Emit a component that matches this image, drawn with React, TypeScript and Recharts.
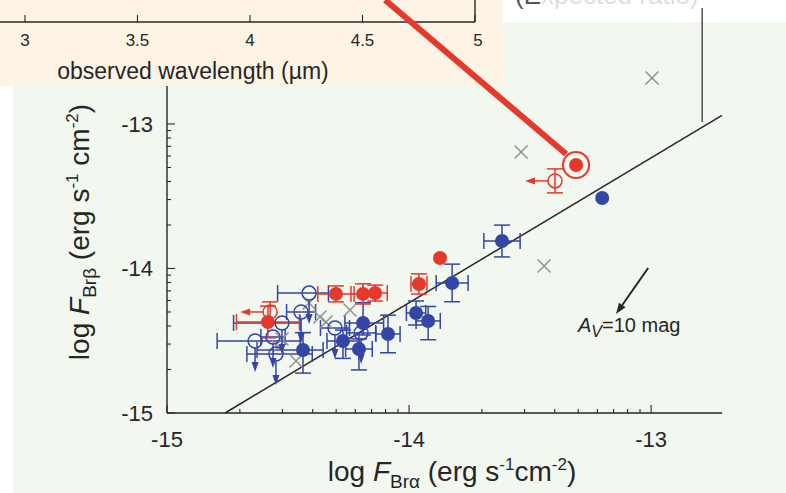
import React from 'react'
import {
  ScatterChart,
  Scatter,
  XAxis,
  YAxis,
  ErrorBar,
  ReferenceLine,
  ReferenceDot,
} from 'recharts'

const FONT = '"Liberation Sans", Arial, Helvetica, sans-serif'
const INK = '#262626'
const RED = '#e5392c'
const BLUE = '#3346a5'
const GREY = '#929292'
const GREEN_BG = '#f2f7ef'
const PEACH_BG = '#fdf4e6'

// axes (log flux)
const X_DOMAIN: [number, number] = [-15, -12.707]
const Y_DOMAIN: [number, number] = [-15, -12.509]
const INSET_DOMAIN: [number, number] = [2.889, 5]
const INSET_TICKS = [3, 3.5, 4, 4.5, 5]

// red filled, with errors
const redX = [-13.959, -14.14, -14.19, -14.302, -14.583]
const redY = [-14.107, -14.17, -14.176, -14.176, -14.37]
const redXErr = [0.033, 0.05, 0.05, 0.075, 0.13]
const redYErr = [0.07, 0.055, 0.07, 0.055, 0.11]
// red filled, no errors
const redBareX = [-13.31, -13.872]
const redBareY = [-13.284, -13.927]
// red open: Bralpha upper limits
const redLimX = [-13.397, -14.574]
const redLimY = [-13.394, -14.301]
const redLimYErr = [0.083, 0.07]

// blue filled, with errors
const blueX = [-13.616, -13.822, -13.971, -13.921, -14.087, -14.19, -14.273, -14.207, -14.438]
const blueY = [-13.81, -14.1, -14.308, -14.363, -14.453, -14.377, -14.502, -14.557, -14.564]
const blueXErr = [
  [0.075, 0.075], [0.066, 0.066], [0.04, 0.04], [0.05, 0.05], [0.05, 0.05],
  [0.075, 0.085], [0.066, 0.066], [0.055, 0.055], [0.19, 0.083],
]
const blueYErr = [
  [0.11, 0.11], [0.13, 0.13], [0.083, 0.083], [0.13, 0.1], [0.13, 0.13],
  [0.083, 0.14], [0.12, 0.076], [0.145, 0.07], [0.16, 0.12],
]
const blueBareX = [-13.202]
const blueBareY = [-13.512]
// blue open: Brbeta upper limits
const blueLimX = [-14.413, -14.446, -14.525, -14.636, -14.562, -14.55, -14.306, -14.198]
const blueLimY = [-14.17, -14.301, -14.377, -14.502, -14.474, -14.592, -14.412, -14.446]
const blueLimXErr = [
  [0.13, 0.08], [0.06, 0.06], [0.2, 0.075], [0.157, 0.186],
  [0.05, 0.05], [0.12, 0.15], [0.06, 0.06], [0.06, 0.06],
]

// grey crosses
const greyX = [-12.996, -13.537, -13.442, -14.413, -14.368, -14.343, -14.244, -14.525, -14.467, -14.541]
const greyY = [-12.682, -13.194, -13.983, -14.239, -14.336, -14.37, -14.287, -14.488, -14.64, -14.543]

// expected ratio line, A_V vector, slide callouts
const ratioLine = [{ x: -14.76, y: -15 }, { x: -12.707, y: -12.94 }]
const avArrow = [{ x: -13.012, y: -13.997 }, { x: -13.145, y: -14.315 }]
const callout = [{ x: -14.099, y: -12.142 }, { x: -13.351, y: -13.208 }]
const bracket = [{ x: -12.789, y: -12.197 }, { x: -12.789, y: -12.986 }]

function logTicks([lo, hi]: [number, number]) {
  const t: number[] = []
  for (let d = Math.floor(lo); d < hi; d++) {
    t.push(d)
    for (let k = 2; k <= 9; k++) t.push(d + Math.log10(k))
  }
  return t.filter((v) => v >= lo - 1e-9 && v <= hi + 1e-9)
}
const xTicks = logTicks(X_DOMAIN)
const yTicks = logTicks(Y_DOMAIN)
const isMajor = (v: number) => Math.abs(v - Math.round(v)) < 1e-6

const red = redX.map((x, i) => ({ x, y: redY[i], ex: redXErr[i], ey: redYErr[i] }))
const redBare = redBareX.map((x, i) => ({ x, y: redBareY[i] }))
const redLim = redLimX.map((x, i) => ({ x, y: redLimY[i], ey: redLimYErr[i] }))
const blue = blueX.map((x, i) => ({ x, y: blueY[i], ex: blueXErr[i], ey: blueYErr[i] }))
const blueBare = blueBareX.map((x, i) => ({ x, y: blueBareY[i] }))
const blueLim = blueLimX.map((x, i) => ({ x, y: blueLimY[i], ex: blueLimXErr[i] }))
const grey = greyX.map((x, i) => ({ x, y: greyY[i] }))

const AXIS = { stroke: INK, strokeWidth: 1.4 }

function BottomTick({ x, y, payload }: any) {
  const major = isMajor(payload.value)
  return (
    <g>
      <line x1={x} y1={y} x2={x} y2={y - (major ? 8 : 4)} stroke={INK} strokeWidth={1.1} />
      {major && (
        <text x={x} y={y + 34} textAnchor="middle" fontSize={22} fill={INK} fontFamily={FONT}>
          {payload.value}
        </text>
      )}
    </g>
  )
}

function TopTick({ x, y, payload }: any) {
  const major = isMajor(payload.value)
  return <line x1={x} y1={y} x2={x} y2={y + (major ? 8 : 4)} stroke={INK} strokeWidth={1.1} />
}

function LeftTick({ x, y, payload }: any) {
  const major = isMajor(payload.value)
  return (
    <g>
      <line x1={x} y1={y} x2={x + (major ? 8 : 4)} y2={y} stroke={INK} strokeWidth={1.1} />
      {major && (
        <text x={x - 14} y={y + 8} textAnchor="end" fontSize={22} fill={INK} fontFamily={FONT}>
          {payload.value}
        </text>
      )}
    </g>
  )
}

function RightTick({ x, y, payload }: any) {
  const major = isMajor(payload.value)
  return <line x1={x} y1={y} x2={x - (major ? 8 : 4)} y2={y} stroke={INK} strokeWidth={1.1} />
}

function InsetTick({ x, y, payload }: any) {
  return (
    <g>
      <line x1={x} y1={y} x2={x} y2={y - 7} stroke={INK} strokeWidth={1.1} />
      <text x={x + (payload.value === 5 ? 3 : 0)} y={y + 24} textAnchor="middle" fontSize={17} fill={INK} fontFamily={FONT}>
        {payload.value}
      </text>
    </g>
  )
}

function XTitle() {
  return (
    <text x={452} y={481} textAnchor="middle" fontSize={28} fill={INK} fontFamily={FONT}>
      {'log '}
      <tspan fontStyle="italic">F</tspan>
      <tspan fontSize={19} dy={7}>Brα</tspan>
      <tspan dy={-7}>{' (erg s'}</tspan>
      <tspan fontSize={17} dy={-11}>-1</tspan>
      <tspan dy={11}>cm</tspan>
      <tspan fontSize={17} dy={-11}>-2</tspan>
      <tspan dy={11}>)</tspan>
    </text>
  )
}

function YTitle() {
  return (
    <text transform="translate(89,232) rotate(-90)" x={0} y={0} textAnchor="middle" fontSize={28} fill={INK} fontFamily={FONT}>
      {'log '}
      <tspan fontStyle="italic">F</tspan>
      <tspan fontSize={19} dy={7}>Brβ</tspan>
      <tspan dy={-7}>{' (erg s'}</tspan>
      <tspan fontSize={17} dy={-11}>-1</tspan>
      <tspan dy={11}>{' cm'}</tspan>
      <tspan fontSize={17} dy={-11}>-2</tspan>
      <tspan dy={11}>)</tspan>
    </text>
  )
}

function InsetTitle() {
  return (
    <text x={193} y={79} textAnchor="middle" fontSize={23} fill={INK} fontFamily={FONT}>
      observed wavelength (µm)
    </text>
  )
}

const filled = (color: string) => (p: any) => <circle cx={p.cx} cy={p.cy} r={7} fill={color} />

function Cross(p: any) {
  const { cx, cy } = p
  const s = 6.5
  return (
    <g stroke={GREY} strokeWidth={1.5}>
      <line x1={cx - s} y1={cy - s} x2={cx + s} y2={cy + s} />
      <line x1={cx - s} y1={cy + s} x2={cx + s} y2={cy - s} />
    </g>
  )
}

function BlueLimit(p: any) {
  const { cx, cy } = p
  const tip = cy + 31
  return (
    <g>
      <line x1={cx} y1={cy + 7} x2={cx} y2={tip - 4} stroke={BLUE} strokeWidth={1.5} />
      <path d={`M${cx - 3.5},${tip - 10} L${cx},${tip} L${cx + 3.5},${tip - 10} Z`} fill={BLUE} />
      <circle cx={cx} cy={cy} r={7} fill="none" stroke={BLUE} strokeWidth={1.5} />
    </g>
  )
}

function RedLimit(p: any) {
  const { cx, cy } = p
  const tip = cx - 30
  return (
    <g>
      <line x1={cx - 7} y1={cy} x2={tip + 4} y2={cy} stroke={RED} strokeWidth={1.5} />
      <path d={`M${tip + 10},${cy - 3.5} L${tip},${cy} L${tip + 10},${cy + 3.5} Z`} fill={RED} />
      <circle cx={cx} cy={cy} r={7} fill="none" stroke={RED} strokeWidth={1.5} />
    </g>
  )
}

function AvArrow(p: any) {
  const { x1, y1, x2, y2 } = p
  const a = Math.atan2(y2 - y1, x2 - x1)
  const L = 11
  const W = 4
  const bx = x2 - L * Math.cos(a)
  const by = y2 - L * Math.sin(a)
  const nx = -Math.sin(a) * W
  const ny = Math.cos(a) * W
  return (
    <g>
      <line x1={x1} y1={y1} x2={bx} y2={by} stroke={INK} strokeWidth={2} />
      <path d={`M${x2},${y2} L${bx + nx},${by + ny} L${bx - nx},${by - ny} Z`} fill={INK} />
      <text x={x2 - 38} y={y2 + 18} fontSize={20} fill={INK} fontFamily={FONT}>
        <tspan fontStyle="italic">A</tspan>
        <tspan fontStyle="italic" fontSize={16} dy={5}>V</tspan>
        <tspan dy={-5}>=10 mag</tspan>
      </text>
    </g>
  )
}

function MainChart() {
  return (
    <ScatterChart width={786} height={493} margin={{ top: 53, right: 64, bottom: 0, left: 0 }}>
      <XAxis
        type="number"
        dataKey="x"
        domain={X_DOMAIN}
        allowDataOverflow
        ticks={xTicks}
        interval={0}
        height={80}
        tickSize={0}
        tickMargin={0}
        tickLine={false}
        tick={BottomTick}
        axisLine={AXIS}
        label={<XTitle />}
      />
      <XAxis
        xAxisId="top"
        orientation="top"
        type="number"
        domain={X_DOMAIN}
        allowDataOverflow
        ticks={xTicks}
        interval={0}
        height={0}
        tickSize={0}
        tickMargin={0}
        tickLine={false}
        tick={TopTick}
        axisLine={AXIS}
      />
      <YAxis
        type="number"
        dataKey="y"
        domain={Y_DOMAIN}
        allowDataOverflow
        ticks={yTicks}
        interval={0}
        width={167}
        tickSize={0}
        tickMargin={0}
        tickLine={false}
        tick={LeftTick}
        axisLine={AXIS}
        label={<YTitle />}
      />
      <YAxis
        yAxisId="right"
        orientation="right"
        type="number"
        domain={Y_DOMAIN}
        allowDataOverflow
        ticks={yTicks}
        interval={0}
        width={0}
        tickSize={0}
        tickMargin={0}
        tickLine={false}
        tick={RightTick}
        axisLine={AXIS}
      />

      <ReferenceLine segment={ratioLine} stroke={INK} strokeWidth={1.5} ifOverflow="visible" />
      <ReferenceLine segment={avArrow} shape={AvArrow} ifOverflow="visible" />

      <Scatter data={grey} shape={Cross} isAnimationActive={false} />
      <Scatter data={blueLim} shape={BlueLimit} isAnimationActive={false}>
        <ErrorBar dataKey="ex" direction="x" width={8} stroke={BLUE} strokeWidth={1.5} />
      </Scatter>
      <Scatter data={blue} shape={filled(BLUE)} isAnimationActive={false}>
        <ErrorBar dataKey="ex" direction="x" width={8} stroke={BLUE} strokeWidth={1.5} />
        <ErrorBar dataKey="ey" direction="y" width={8} stroke={BLUE} strokeWidth={1.5} />
      </Scatter>
      <Scatter data={blueBare} shape={filled(BLUE)} isAnimationActive={false} />
      <Scatter data={redLim} shape={RedLimit} isAnimationActive={false}>
        <ErrorBar dataKey="ey" direction="y" width={8} stroke={RED} strokeWidth={1.5} />
      </Scatter>
      <Scatter data={red} shape={filled(RED)} isAnimationActive={false}>
        <ErrorBar dataKey="ex" direction="x" width={8} stroke={RED} strokeWidth={1.5} />
        <ErrorBar dataKey="ey" direction="y" width={8} stroke={RED} strokeWidth={1.5} />
      </Scatter>
      <Scatter data={redBare} shape={filled(RED)} isAnimationActive={false} />
      <ReferenceDot x={redBareX[0]} y={redBareY[0]} r={13} fill="none" stroke={RED} strokeWidth={2} ifOverflow="visible" />
    </ScatterChart>
  )
}

function InsetChart() {
  return (
    <ScatterChart width={503} height={86} margin={{ top: 0, right: 28, bottom: 0, left: 0 }}>
      <XAxis
        type="number"
        dataKey="x"
        domain={INSET_DOMAIN}
        allowDataOverflow
        ticks={INSET_TICKS}
        interval={0}
        height={64}
        tickSize={0}
        tickMargin={0}
        tickLine={false}
        tick={InsetTick}
        axisLine={AXIS}
        label={<InsetTitle />}
      />
      <YAxis hide type="number" dataKey="y" domain={[0, 1]} allowDataOverflow />
      {/* right frame of the inset panel */}
      <ReferenceLine x={INSET_DOMAIN[1]} stroke={INK} strokeWidth={1.4} ifOverflow="visible" />
    </ScatterChart>
  )
}

function Overlay() {
  return (
    <ScatterChart width={786} height={493} margin={{ top: 53, right: 64, bottom: 80, left: 167 }}>
      <XAxis hide type="number" dataKey="x" domain={X_DOMAIN} allowDataOverflow />
      <YAxis hide type="number" dataKey="y" domain={Y_DOMAIN} allowDataOverflow />
      <ReferenceLine segment={bracket} stroke={INK} strokeWidth={1.2} ifOverflow="visible" />
      <ReferenceLine segment={callout} stroke={RED} strokeWidth={6} ifOverflow="visible" />
    </ScatterChart>
  )
}

export default function App() {
  return (
    <div style={{ position: 'absolute', left: 0, top: 0, width: 786, height: 493, background: '#fff', overflow: 'hidden', fontFamily: FONT }}>
      <div style={{ position: 'absolute', left: 13, top: 22, right: 0, bottom: 0, background: GREEN_BG }} />
      <div style={{ position: 'absolute', left: 0, top: 0 }}>
        <MainChart />
      </div>
      <div style={{ position: 'absolute', left: 0, top: 0, width: 503, height: 86, background: PEACH_BG }}>
        <InsetChart />
      </div>
      <div style={{ position: 'absolute', left: 515, top: -20, fontSize: 26, whiteSpace: 'nowrap', color: '#dedede' }}>
        <span style={{ color: '#555' }}>(E</span>xpected ratio)
      </div>
      <div style={{ position: 'absolute', left: 0, top: 0, pointerEvents: 'none' }}>
        <Overlay />
      </div>
    </div>
  )
}
